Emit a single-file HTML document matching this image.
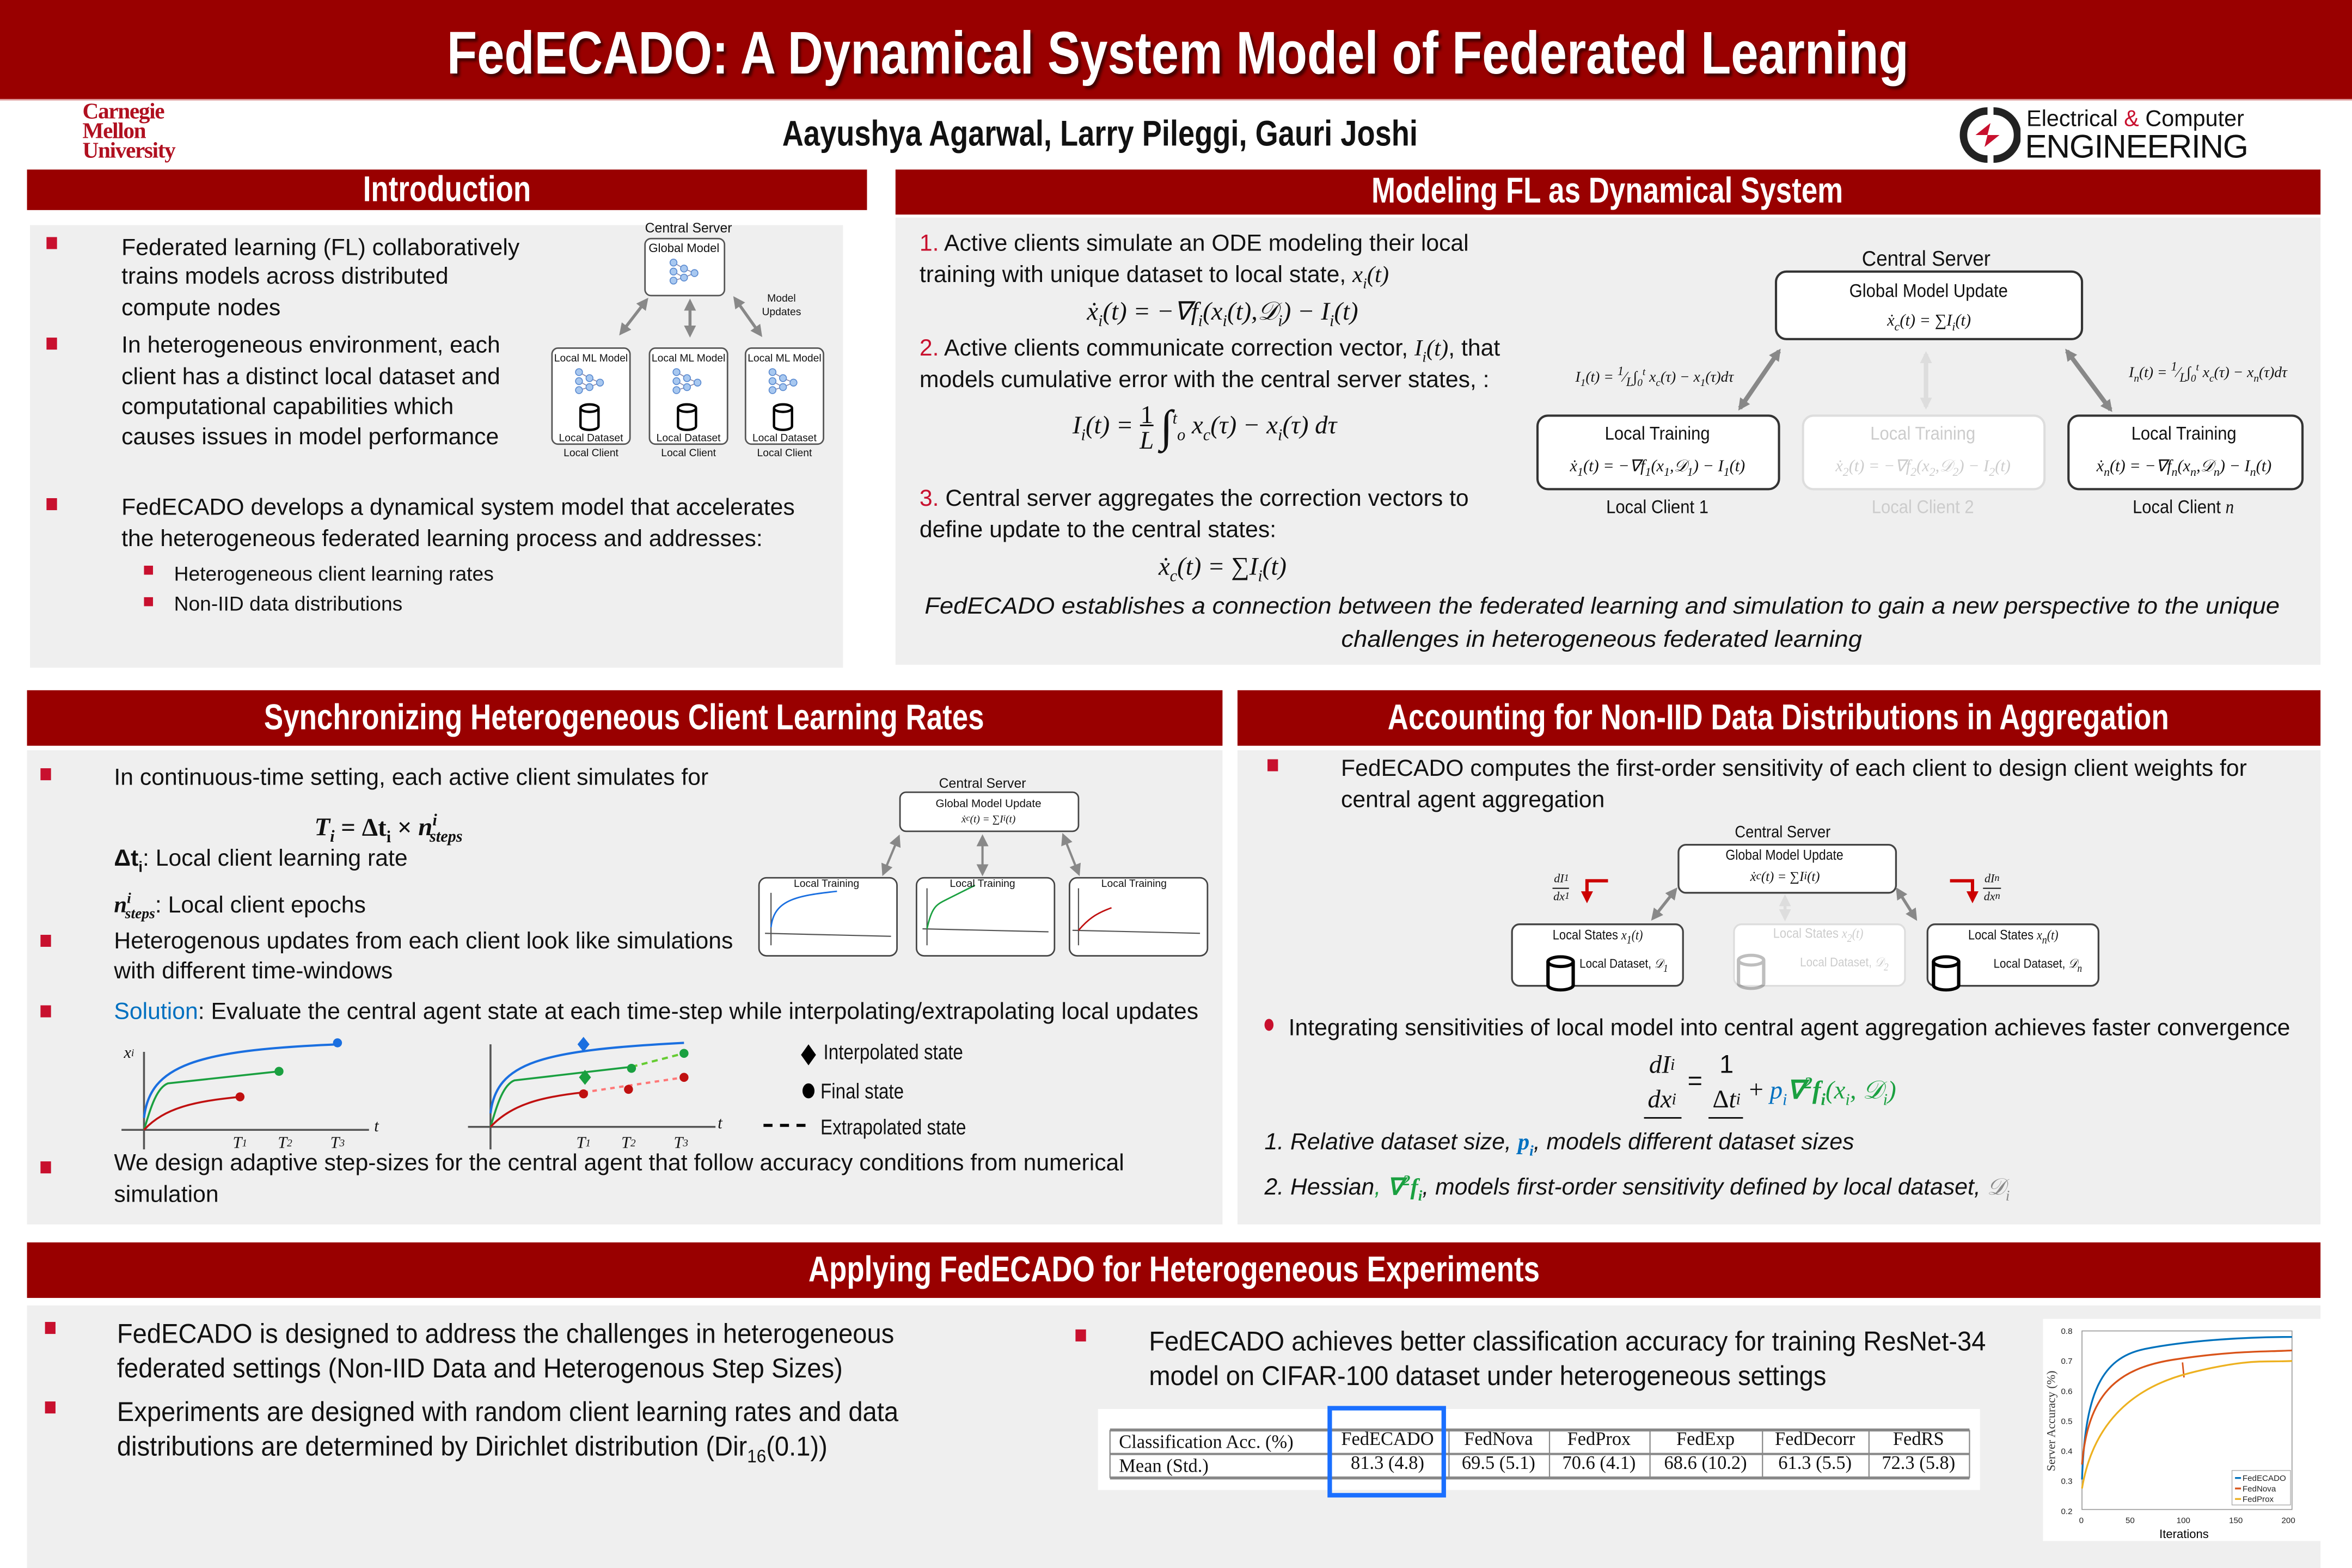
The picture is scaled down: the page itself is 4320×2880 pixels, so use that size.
<!DOCTYPE html>
<html><head><meta charset="utf-8">
<style>
html,body{margin:0;padding:0;width:4320px;height:2880px;overflow:hidden;background:#fff}
#p{position:absolute;left:0;top:0;width:1568px;height:1045px;transform:scale(2.7551,2.7560);transform-origin:0 0;font-family:"Liberation Sans",sans-serif;color:#111}
.t{position:absolute;white-space:nowrap;font-size:15.5px;line-height:20px;transform:scaleX(1);transform-origin:0 50%}
.t.big{font-size:18px;transform:scaleX(.95)}
.t.lg{transform:scaleX(.86)}
.c{position:absolute;white-space:nowrap;line-height:20px;text-align:center;width:0;display:flex;justify-content:center}
.hd{position:absolute;background:#990000;color:#fff;display:flex;align-items:center;justify-content:center;font-weight:bold;font-size:24px}
.hd span{display:inline-block;transform:scaleX(.8)}
.bx{position:absolute;background:#efefef}
.b{position:absolute;width:7px;height:8px;background:#c8102e}
.m{font-family:"Liberation Serif",serif;font-style:italic}
.r{color:#c8102e}
svg{position:absolute;left:0;top:0}
</style></head><body><div id="p">

<div style="position:absolute;left:0;top:0;width:1568px;height:66px;background:#990000"></div>
<div style="position:absolute;left:0;top:66px;width:1568px;height:1px;background:#e0a0a0"></div>
<div class="c" style="left:785px;top:14px;line-height:44px;font-size:40px;font-weight:bold;color:#fff;text-shadow:2px 2px 2px #400"><span style="display:inline-block;transform:scaleX(.82)">FedECADO: A Dynamical System Model of Federated Learning</span></div>

<div style="position:absolute;left:55px;top:69px;font-family:'Liberation Serif',serif;font-weight:bold;color:#b01020;font-size:15px;line-height:13px;letter-spacing:-.5px">Carnegie<br>Mellon<br>University</div>
<div class="c" style="left:733px;top:76px;line-height:28px;font-size:24px;font-weight:bold"><span style="display:inline-block;transform:scaleX(.82)">Aayushya Agarwal, Larry Pileggi, Gauri Joshi</span></div>
<div style="position:absolute;left:1303px;top:70px;width:44px;height:40px">
<svg width="44" height="40" viewBox="0 0 44 40"><path d="M22 4 A16 16 0 1 0 22 36" fill="none" stroke="#222" stroke-width="5"/><path d="M26 4 A16 16 0 0 1 26 36" fill="none" stroke="#222" stroke-width="5"/><path d="M14 20 L24 12 L22 20 L30 20 L20 28 L22 20Z" fill="#c8102e"/></svg></div>
<div style="position:absolute;left:1351px;top:71px;font-size:15px;line-height:17px;white-space:nowrap">Electrical <span style="color:#c8102e">&amp;</span> Computer</div>
<div style="position:absolute;left:1350px;top:86px;font-size:22px;line-height:24px;white-space:nowrap;letter-spacing:-.5px">ENGINEERING</div>

<div class="hd" style="left:18px;top:113px;width:560px;height:27px"><span>Introduction</span></div>
<div class="bx" style="left:20px;top:150px;width:542px;height:295px"></div>
<div class="hd" style="left:597px;top:113px;width:950px;height:30px"><span>Modeling FL as Dynamical System</span></div>
<div class="bx" style="left:597px;top:145px;width:950px;height:298px"></div>
<div class="hd" style="left:18px;top:460px;width:797px;height:37px"><span>Synchronizing Heterogeneous Client Learning Rates</span></div>
<div class="bx" style="left:18px;top:500px;width:797px;height:316px"></div>
<div class="hd" style="left:825px;top:460px;width:722px;height:37px"><span>Accounting for Non-IID Data Distributions in Aggregation</span></div>
<div class="bx" style="left:825px;top:500px;width:722px;height:316px"></div>
<div class="hd" style="left:18px;top:828px;width:1529px;height:37px"><span>Applying FedECADO for Heterogeneous Experiments</span></div>
<div class="bx" style="left:18px;top:870px;width:1529px;height:175px"></div>

<svg width="1568" height="1045" viewBox="0 0 1568 1045">
<defs>
<marker id="ag" markerWidth="8" markerHeight="8" refX="6" refY="4" orient="auto-start-reverse" markerUnits="userSpaceOnUse"><path d="M0,0 L8,4 L0,8Z" fill="#888"/></marker>
<marker id="al" markerWidth="8" markerHeight="8" refX="6" refY="4" orient="auto-start-reverse" markerUnits="userSpaceOnUse"><path d="M0,0 L8,4 L0,8Z" fill="#ddd"/></marker>
<marker id="ar" markerWidth="8" markerHeight="8" refX="6" refY="4" orient="auto" markerUnits="userSpaceOnUse"><path d="M0,0 L8,4 L0,8Z" fill="#c00"/></marker>
<g id="nn" fill="#a8c8f0" stroke="#5a8ad0" stroke-width=".6">
<line x1="5" y1="3" x2="12" y2="7" stroke="#88a"/><line x1="5" y1="9" x2="12" y2="13" stroke="#88a"/><line x1="12" y1="7" x2="19" y2="10" stroke="#88a"/><line x1="12" y1="13" x2="19" y2="10" stroke="#88a"/><line x1="5" y1="15" x2="12" y2="13" stroke="#88a"/>
<circle cx="5" cy="3" r="2.3"/><circle cx="5" cy="9" r="2.3"/><circle cx="5" cy="15" r="2.3"/><circle cx="12" cy="7" r="2.3"/><circle cx="12" cy="13" r="2.3"/><circle cx="19" cy="10" r="2.3"/></g>
<g id="cyl" fill="#fff" stroke="#000" stroke-width="1.6"><path d="M0,3 L0,15 A6,2.5 0 0 0 12,15 L12,3"/><ellipse cx="6" cy="3" rx="6" ry="2.5"/></g>
</defs>

<rect x="430" y="159" width="53" height="38" rx="4" fill="#fff" stroke="#555" stroke-width="1"/>
<use href="#nn" x="444" y="172"/>
<g fill="#fff" stroke="#555" stroke-width="1">
<rect x="368" y="232" width="52" height="64" rx="4"/><rect x="433" y="232" width="52" height="64" rx="4"/><rect x="497" y="232" width="52" height="64" rx="4"/></g>
<use href="#nn" x="381" y="245"/><use href="#nn" x="446" y="245"/><use href="#nn" x="510" y="245"/>
<use href="#cyl" x="387" y="269"/><use href="#cyl" x="452" y="269"/><use href="#cyl" x="516" y="269"/>
<g stroke="#888" stroke-width="2" marker-start="url(#ag)" marker-end="url(#ag)">
<line x1="414" y1="222" x2="431" y2="200"/><line x1="460" y1="201" x2="460" y2="223"/><line x1="490" y1="199" x2="507" y2="223"/></g>

<rect x="1184" y="181" width="204" height="45" rx="7" fill="#fff" stroke="#333" stroke-width="1.5"/>
<rect x="1025" y="277" width="161" height="49" rx="7" fill="#fff" stroke="#333" stroke-width="1.5"/>
<rect x="1202" y="277" width="161" height="49" rx="7" fill="#fff" stroke="#ddd" stroke-width="1.5"/>
<rect x="1379" y="277" width="156" height="49" rx="7" fill="#fff" stroke="#333" stroke-width="1.5"/>
<g stroke="#888" stroke-width="3" marker-start="url(#ag)" marker-end="url(#ag)"><line x1="1160" y1="272" x2="1186" y2="234"/><line x1="1378" y1="234" x2="1407" y2="273"/></g>
<line x1="1284" y1="236" x2="1284" y2="271" stroke="#ddd" stroke-width="3" marker-start="url(#al)" marker-end="url(#al)"/>

<rect x="600" y="528" width="119" height="26" rx="4" fill="#fff" stroke="#444"/>
<g fill="#fff" stroke="#444"><rect x="506" y="585" width="92" height="52" rx="5"/><rect x="611" y="585" width="92" height="52" rx="5"/><rect x="713" y="585" width="92" height="52" rx="5"/></g>
<g stroke="#888" stroke-width="1.5" marker-start="url(#ag)" marker-end="url(#ag)"><line x1="589" y1="582" x2="599" y2="558"/><line x1="655" y1="558" x2="655" y2="582"/><line x1="709" y1="557" x2="719" y2="582"/></g>
<g stroke="#555" stroke-width=".8" fill="none"><line x1="514" y1="595" x2="514" y2="630"/><line x1="510" y1="622" x2="594" y2="624"/><line x1="618" y1="592" x2="618" y2="630"/><line x1="615" y1="619" x2="699" y2="621"/><line x1="719" y1="592" x2="719" y2="630"/><line x1="715" y1="620" x2="800" y2="622"/></g>
<path d="M514,618 C516,600 530,597 558,594" stroke="#1a6fe0" fill="none"/>
<path d="M618,619 C621,605 624,603 630,600 L650,590" stroke="#1aa040" fill="none"/>
<path d="M719,620 C725,613 730,609 741,605" stroke="#c01010" fill="none"/>

<g stroke="#555" stroke-width="1.3"><line x1="96" y1="701" x2="96" y2="766"/><line x1="81" y1="753" x2="246" y2="753"/><line x1="327" y1="696" x2="327" y2="766"/><line x1="312" y1="751" x2="477" y2="751"/></g>
<path d="M96,745 C100,710 130,700 225,696" stroke="#1a6fe0" stroke-width="1.5" fill="none"/>
<path d="M96,753 C100,740 104,725 112,722 L186,714" stroke="#1aa040" stroke-width="1.3" fill="none"/>
<path d="M96,753 C110,738 130,734 160,731" stroke="#c01010" stroke-width="1.3" fill="none"/>
<circle cx="225" cy="695" r="3" fill="#1a6fe0"/><circle cx="186" cy="714" r="3" fill="#1aa040"/><circle cx="160" cy="731" r="3" fill="#c01010"/>
<path d="M327,742 C331,708 360,700 456,695" stroke="#1a6fe0" stroke-width="1.5" fill="none"/>
<path d="M327,751 C331,738 335,723 343,720 L421,711" stroke="#1aa040" stroke-width="1.3" fill="none"/>
<path d="M421,711 L456,702" stroke="#6c3" stroke-width="1.5" stroke-dasharray="4,3" fill="none"/>
<path d="M327,751 C341,736 361,731 389,728" stroke="#c01010" stroke-width="1.3" fill="none"/>
<path d="M389,728 L456,718" stroke="#f77" stroke-width="1.5" stroke-dasharray="3,3" fill="none"/>
<path d="M389,691 l4,5 l-4,5 l-4,-5z" fill="#1a6fe0"/><path d="M390,713 l4,5 l-4,5 l-4,-5z" fill="#1aa040"/>
<circle cx="421" cy="712" r="3" fill="#1aa040"/><circle cx="456" cy="702" r="3" fill="#1aa040"/>
<circle cx="389" cy="729" r="3" fill="#c01010"/><circle cx="419" cy="726" r="3" fill="#c01010"/><circle cx="456" cy="718" r="3" fill="#c01010"/>
<path d="M539,696 l5,7 l-5,7 l-5,-7z" fill="#000"/><ellipse cx="539" cy="727" rx="4" ry="5" fill="#000"/>
<line x1="509" y1="750" x2="540" y2="750" stroke="#000" stroke-width="2" stroke-dasharray="6,5"/>

<rect x="1119" y="563" width="145" height="32" rx="5" fill="#fff" stroke="#444" stroke-width="1.2"/>
<rect x="1008" y="616" width="114" height="41" rx="5" fill="#fff" stroke="#444" stroke-width="1.2"/>
<rect x="1156" y="616" width="114" height="41" rx="5" fill="#fff" stroke="#ddd" stroke-width="1.2"/>
<rect x="1285" y="616" width="114" height="41" rx="5" fill="#fff" stroke="#444" stroke-width="1.2"/>
<g transform="translate(1032,637) scale(1.4,1.3)"><use href="#cyl"/></g>
<g transform="translate(1159,636) scale(1.4,1.3)" opacity=".25"><use href="#cyl"/></g>
<g transform="translate(1289,637) scale(1.4,1.3)"><use href="#cyl"/></g>
<g stroke="#888" stroke-width="2" marker-start="url(#ag)" marker-end="url(#ag)"><line x1="1102" y1="612" x2="1117" y2="593"/><line x1="1265" y1="593" x2="1277" y2="612"/></g>
<line x1="1190" y1="598" x2="1190" y2="612" stroke="#ddd" stroke-width="2" marker-start="url(#al)" marker-end="url(#al)"/>
<path d="M1072,587 L1058,587 L1058,600" stroke="#c00" stroke-width="2.2" fill="none" marker-end="url(#ar)"/>
<path d="M1300,587 L1315,587 L1315,600" stroke="#c00" stroke-width="2.2" fill="none" marker-end="url(#ar)"/>
<line x1="1035" y1="592" x2="1046" y2="592" stroke="#000" stroke-width=".7"/>
<line x1="1322" y1="592" x2="1334" y2="592" stroke="#000" stroke-width=".7"/>
<line x1="1096" y1="745" x2="1121" y2="745" stroke="#000" stroke-width="1"/>
<line x1="1139" y1="745" x2="1162" y2="745" stroke="#000" stroke-width="1"/>

<rect x="732" y="939" width="588" height="54" fill="#fff"/>
<g stroke="#888"><line x1="740" y1="953" x2="1313" y2="953" stroke-width="2"/><line x1="740" y1="969" x2="1313" y2="969" stroke-width="1.5"/><line x1="740" y1="985" x2="1313" y2="985" stroke-width="2"/>
<g stroke-width=".8"><line x1="740" y1="953" x2="740" y2="985"/><line x1="966" y1="953" x2="966" y2="985"/><line x1="1033" y1="953" x2="1033" y2="985"/><line x1="1100" y1="953" x2="1100" y2="985"/><line x1="1175" y1="953" x2="1175" y2="985"/><line x1="1246" y1="953" x2="1246" y2="985"/><line x1="1313" y1="953" x2="1313" y2="985"/></g></g>
<rect x="886.5" y="938.5" width="76" height="58" fill="none" stroke="#1a6fff" stroke-width="3"/>

<rect x="1362" y="879" width="185" height="148" fill="#fff"/>
<rect x="1388" y="887" width="140" height="119" fill="none" stroke="#999" stroke-width=".6"/>
<path d="M1388,986 C1390,930 1400,905 1430,899 S1500,891 1528,891" stroke="#0072bd" stroke-width="1.2" fill="none"/>
<path d="M1388,976 C1392,930 1410,912 1450,906 S1510,901 1528,900" stroke="#d95319" stroke-width="1.2" fill="none"/>
<path d="M1455,908 L1456,918" stroke="#d95319" stroke-width="1"/>
<path d="M1388,992 C1395,950 1420,925 1460,915 S1510,908 1528,907" stroke="#edb120" stroke-width="1.2" fill="none"/>
<rect x="1488" y="980" width="39" height="23" fill="#fff" stroke="#aaa" stroke-width=".5"/>
<g stroke-width="1.2"><line x1="1490" y1="985" x2="1494" y2="985" stroke="#0072bd"/><line x1="1490" y1="992" x2="1494" y2="992" stroke="#d95319"/><line x1="1490" y1="999" x2="1494" y2="999" stroke="#edb120"/></g>
<g font-family="Liberation Sans" font-size="5.5" fill="#222"><text x="1495" y="987">FedECADO</text><text x="1495" y="994">FedNova</text><text x="1495" y="1001">FedProx</text>
<text x="1374" y="889">0.8</text><text x="1374" y="909">0.7</text><text x="1374" y="929">0.6</text><text x="1374" y="949">0.5</text><text x="1374" y="969">0.4</text><text x="1374" y="989">0.3</text><text x="1374" y="1009">0.2</text>
<text x="1386" y="1015">0</text><text x="1417" y="1015">50</text><text x="1451" y="1015">100</text><text x="1486" y="1015">150</text><text x="1521" y="1015">200</text></g>
<text x="1456" y="1025" font-family="Liberation Sans" font-size="8" text-anchor="middle">Iterations</text>
<text transform="translate(1370,947) rotate(-90)" font-family="Liberation Serif" font-size="8" text-anchor="middle" fill="#333">Server Accuracy (%)</text>
</svg>

<div class="b" style="left:31px;top:158px"></div><div class="b" style="left:31px;top:225px"></div><div class="b" style="left:31px;top:332px"></div>
<div class="t" style="left:81px;top:156px">Federated learning (FL) collaboratively</div>
<div class="t" style="left:81px;top:175px">trains models across distributed</div>
<div class="t" style="left:81px;top:196px">compute nodes</div>
<div class="t" style="left:81px;top:221px">In heterogeneous environment, each</div>
<div class="t" style="left:81px;top:242px">client has a distinct local dataset and</div>
<div class="t" style="left:81px;top:262px">computational capabilities which</div>
<div class="t" style="left:81px;top:282px">causes issues in model performance</div>
<div class="t" style="left:81px;top:329px">FedECADO develops a dynamical system model that accelerates</div>
<div class="t" style="left:81px;top:350px">the heterogeneous federated learning process and addresses:</div>
<div class="b" style="left:96px;top:377px;width:6px;height:6px"></div><div class="b" style="left:96px;top:398px;width:6px;height:6px"></div>
<div class="t" style="left:116px;top:373px;font-size:13.5px">Heterogeneous client learning rates</div>
<div class="t" style="left:116px;top:393px;font-size:13.5px">Non-IID data distributions</div>
<div class="c" style="left:459px;top:142px;font-size:9px">Central Server</div>
<div class="c" style="left:456px;top:156px;font-size:8px">Global Model</div>
<div class="c" style="left:521px;top:195px;font-size:7px;line-height:9px">Model<br>Updates</div>
<div class="c" style="left:394px;top:230px;font-size:7px">Local ML Model</div><div class="c" style="left:459px;top:230px;font-size:7px">Local ML Model</div><div class="c" style="left:523px;top:230px;font-size:7px">Local ML Model</div>
<div class="c" style="left:394px;top:283px;font-size:7px">Local Dataset</div><div class="c" style="left:459px;top:283px;font-size:7px">Local Dataset</div><div class="c" style="left:523px;top:283px;font-size:7px">Local Dataset</div>
<div class="c" style="left:394px;top:293px;font-size:7px">Local Client</div><div class="c" style="left:459px;top:293px;font-size:7px">Local Client</div><div class="c" style="left:523px;top:293px;font-size:7px">Local Client</div>

<div class="t" style="left:613px;top:153px"><span class="r">1.</span> Active clients simulate an ODE modeling their local</div>
<div class="t" style="left:613px;top:174px">training with unique dataset to local state, <span class="m">x<sub style="font-size:10px">i</sub>(t)</span></div>
<div class="c" style="left:815px;top:198px;font-size:17px"><span class="m">ẋ<sub style="font-size:11px">i</sub>(t) = −∇f<sub style="font-size:11px">i</sub>(x<sub style="font-size:11px">i</sub>(t),𝒟<sub style="font-size:11px">i</sub>) − I<sub style="font-size:11px">i</sub>(t)</span></div>
<div class="t" style="left:613px;top:223px"><span class="r">2.</span> Active clients communicate correction vector, <span class="m">I<sub style="font-size:10px">i</sub>(t)</span>, that</div>
<div class="t" style="left:613px;top:244px">models cumulative error with the central server states, :</div>
<div style="position:absolute;left:715px;top:268px;font-size:17px;white-space:nowrap" class="m">I<sub style="font-size:11px">i</sub>(t) = <span style="display:inline-block;vertical-align:middle;text-align:center;line-height:17px;font-style:normal">1<br><span style="border-top:1px solid #000" class="m">L</span></span> <span style="font-size:30px;font-style:normal;vertical-align:middle">∫</span><sup style="font-size:11px">t</sup><sub style="font-size:11px">o</sub> x<sub style="font-size:11px">c</sub>(τ) − x<sub style="font-size:11px">i</sub>(τ) dτ</div>
<div class="t" style="left:613px;top:323px"><span class="r">3.</span> Central server aggregates the correction vectors to</div>
<div class="t" style="left:613px;top:344px">define update to the central states:</div>
<div class="c" style="left:815px;top:368px;font-size:17px"><span class="m">ẋ<sub style="font-size:11px">c</sub>(t) = ∑I<sub style="font-size:11px">i</sub>(t)</span></div>
<div class="c" style="left:1068px;top:395px;font-size:15.5px;font-style:italic"><span style="display:inline-block;transform:scaleX(1.06)">FedECADO establishes a connection between the federated learning and simulation to gain a new perspective to the unique</span></div>
<div class="c" style="left:1068px;top:417px;font-size:15.5px;font-style:italic"><span style="display:inline-block;transform:scaleX(1.06)">challenges in heterogeneous federated learning</span></div>
<div class="c" style="left:1284px;top:162px;font-size:14px"><span style="display:inline-block;transform:scaleX(.95)">Central Server</span></div>
<div class="c" style="left:1286px;top:184px;font-size:12.5px"><span style="display:inline-block;transform:scaleX(.9)">Global Model Update</span></div>
<div class="c" style="left:1286px;top:204px;font-size:11px"><span class="m">ẋ<sub style="font-size:8px">c</sub>(t) = ∑I<sub style="font-size:8px">i</sub>(t)</span></div>
<div class="c" style="left:1105px;top:279px;font-size:12.5px"><span style="display:inline-block;transform:scaleX(.9)">Local Training</span></div>
<div class="c" style="left:1105px;top:301px;font-size:11px"><span class="m">ẋ<sub style="font-size:8px">1</sub>(t) = −∇f<sub style="font-size:8px">1</sub>(x<sub style="font-size:8px">1</sub>,𝒟<sub style="font-size:8px">1</sub>) − I<sub style="font-size:8px">1</sub>(t)</span></div>
<div class="c" style="left:1282px;top:279px;font-size:12.5px;color:#ccc"><span style="display:inline-block;transform:scaleX(.9)">Local Training</span></div>
<div class="c" style="left:1282px;top:301px;font-size:11px;color:#ccc"><span class="m">ẋ<sub style="font-size:8px">2</sub>(t) = −∇f<sub style="font-size:8px">2</sub>(x<sub style="font-size:8px">2</sub>,𝒟<sub style="font-size:8px">2</sub>) − I<sub style="font-size:8px">2</sub>(t)</span></div>
<div class="c" style="left:1456px;top:279px;font-size:12.5px"><span style="display:inline-block;transform:scaleX(.9)">Local Training</span></div>
<div class="c" style="left:1456px;top:301px;font-size:11px"><span class="m">ẋ<sub style="font-size:8px">n</sub>(t) = −∇f<sub style="font-size:8px">n</sub>(x<sub style="font-size:8px">n</sub>,𝒟<sub style="font-size:8px">n</sub>) − I<sub style="font-size:8px">n</sub>(t)</span></div>
<div class="c" style="left:1105px;top:328px;font-size:12.5px"><span style="display:inline-block;transform:scaleX(.9)">Local Client 1</span></div>
<div class="c" style="left:1282px;top:328px;font-size:12.5px;color:#ccc"><span style="display:inline-block;transform:scaleX(.9)">Local Client 2</span></div>
<div class="c" style="left:1456px;top:328px;font-size:12.5px"><span style="display:inline-block;transform:scaleX(.9)">Local Client <i class="m">n</i></span></div>
<div class="c" style="left:1103px;top:238px;font-size:10px"><span class="m">I<sub style="font-size:7px">1</sub>(t) = <sup>1</sup>⁄<sub>L</sub>∫<sub style="font-size:7px">0</sub><sup style="font-size:7px">t</sup> x<sub style="font-size:7px">c</sub>(τ) − x<sub style="font-size:7px">1</sub>(τ)dτ</span></div>
<div class="c" style="left:1472px;top:235px;font-size:10px"><span class="m">I<sub style="font-size:7px">n</sub>(t) = <sup>1</sup>⁄<sub>L</sub>∫<sub style="font-size:7px">0</sub><sup style="font-size:7px">t</sup> x<sub style="font-size:7px">c</sub>(τ) − x<sub style="font-size:7px">n</sub>(τ)dτ</span></div>

<div class="b" style="left:27px;top:512px"></div><div class="b" style="left:27px;top:623px"></div><div class="b" style="left:27px;top:670px"></div><div class="b" style="left:27px;top:774px"></div>
<div class="t" style="left:76px;top:509px">In continuous-time setting, each active client simulates for</div>
<div class="c" style="left:259px;top:535px;font-size:17px;font-weight:bold;line-height:24px"><span class="m">T<sub style="font-size:11px">i</sub> <span style="font-style:normal">= Δt<sub style="font-size:11px">i</sub> ×</span> n<sup style="font-size:11px">i</sup><sub style="font-size:11px;margin-left:-5px">steps</sub></span></div>
<div class="t" style="left:76px;top:563px"><b>Δt<sub style="font-size:10px">i</sub></b>: Local client learning rate</div>
<div class="t" style="left:76px;top:590px"><b class="m">n<sup style="font-size:10px">i</sup><sub style="font-size:10px;margin-left:-4px">steps</sub></b>: Local client epochs</div>
<div class="t" style="left:76px;top:618px">Heterogenous updates from each client look like simulations</div>
<div class="t" style="left:76px;top:638px">with different time-windows</div>
<div class="t" style="left:76px;top:665px"><span style="color:#0070c0">Solution</span>: Evaluate the central agent state at each time-step while interpolating/extrapolating local updates</div>
<div class="t" style="left:76px;top:766px">We design adaptive step-sizes for the central agent that follow accuracy conditions from numerical</div>
<div class="t" style="left:76px;top:787px">simulation</div>
<div class="t lg" style="left:549px;top:691px;font-size:14px">Interpolated state</div>
<div class="t lg" style="left:547px;top:717px;font-size:14px">Final state</div>
<div class="t lg" style="left:547px;top:741px;font-size:14px">Extrapolated state</div>
<div class="c m" style="left:86px;top:692px;font-size:11px">x<sub style="font-size:7px">i</sub></div>
<div class="c m" style="left:160px;top:752px;font-size:11px">T<sub style="font-size:7px">1</sub></div><div class="c m" style="left:190px;top:752px;font-size:11px">T<sub style="font-size:7px">2</sub></div><div class="c m" style="left:225px;top:752px;font-size:11px">T<sub style="font-size:7px">3</sub></div><div class="c m" style="left:251px;top:741px;font-size:11px">t</div>
<div class="c m" style="left:389px;top:752px;font-size:11px">T<sub style="font-size:7px">1</sub></div><div class="c m" style="left:419px;top:752px;font-size:11px">T<sub style="font-size:7px">2</sub></div><div class="c m" style="left:454px;top:752px;font-size:11px">T<sub style="font-size:7px">3</sub></div><div class="c m" style="left:480px;top:739px;font-size:11px">t</div>
<div class="c" style="left:655px;top:512px;font-size:9px">Central Server</div>
<div class="c" style="left:659px;top:526px;font-size:7.5px">Global Model Update</div>
<div class="c m" style="left:659px;top:536px;font-size:7px">ẋ<sub>c</sub>(t) = ∑I<sub>i</sub>(t)</div>
<div class="c" style="left:551px;top:580px;font-size:7px">Local Training</div><div class="c" style="left:655px;top:580px;font-size:7px">Local Training</div><div class="c" style="left:756px;top:580px;font-size:7px">Local Training</div>

<div class="b" style="left:845px;top:506px"></div>
<div class="t" style="left:894px;top:503px">FedECADO computes the first-order sensitivity of each client to design client weights for</div>
<div class="t" style="left:894px;top:524px">central agent aggregation</div>
<div class="c" style="left:1188px;top:545px;font-size:11px"><span style="display:inline-block;transform:scaleX(.9)">Central Server</span></div>
<div class="c" style="left:1190px;top:561px;font-size:9.5px"><span style="display:inline-block;transform:scaleX(.88)">Global Model Update</span></div>
<div class="c m" style="left:1190px;top:574px;font-size:9px">ẋ<sub>c</sub>(t) = ∑I<sub>i</sub>(t)</div>
<div class="c" style="left:1065px;top:613px;font-size:9px"><span style="display:inline-block;transform:scaleX(.88)">Local States <i class="m">x<sub>1</sub>(t)</i></span></div>
<div class="c" style="left:1083px;top:632px;font-size:8.5px"><span style="display:inline-block;transform:scaleX(.88)">Local Dataset, <i class="m">𝒟<sub>1</sub></i></span></div>
<div class="c" style="left:1212px;top:612px;font-size:9px;color:#ccc"><span style="display:inline-block;transform:scaleX(.88)">Local States <i class="m">x<sub>2</sub>(t)</i></span></div>
<div class="c" style="left:1230px;top:631px;font-size:8.5px;color:#ccc"><span style="display:inline-block;transform:scaleX(.88)">Local Dataset, <i class="m">𝒟<sub>2</sub></i></span></div>
<div class="c" style="left:1342px;top:613px;font-size:9px"><span style="display:inline-block;transform:scaleX(.88)">Local States <i class="m">x<sub>n</sub>(t)</i></span></div>
<div class="c" style="left:1359px;top:632px;font-size:8.5px"><span style="display:inline-block;transform:scaleX(.88)">Local Dataset, <i class="m">𝒟<sub>n</sub></i></span></div>
<div class="c m" style="left:1041px;top:576px;font-size:8px">dI<sub>1</sub></div><div class="c m" style="left:1041px;top:588px;font-size:8px">dx<sub>1</sub></div>
<div class="c m" style="left:1328px;top:576px;font-size:8px">dI<sub>n</sub></div><div class="c m" style="left:1328px;top:588px;font-size:8px">dx<sub>n</sub></div>
<div style="position:absolute;left:843px;top:679px;width:6px;height:8px;border-radius:50%;background:#c8102e"></div>
<div class="t" style="left:859px;top:676px">Integrating sensitivities of local model into central agent aggregation achieves faster convergence</div>
<div class="c m" style="left:1108px;top:700px;font-size:17px">dI<sub style="font-size:11px">i</sub></div>
<div class="c m" style="left:1108px;top:723px;font-size:17px">dx<sub style="font-size:11px">i</sub></div>
<div class="c" style="left:1130px;top:711px;font-size:17px">=</div>
<div class="c" style="left:1151px;top:700px;font-size:17px">1</div>
<div class="c m" style="left:1151px;top:723px;font-size:17px"><span style="font-style:normal">Δ</span>t<sub style="font-size:11px">i</sub></div>
<div style="position:absolute;left:1166px;top:711px;font-size:17px;line-height:22px;white-space:nowrap" class="m"><span style="font-style:normal">+</span> <span style="color:#0070c0">p<sub style="font-size:11px">i</sub></span><span style="color:#1aa040"><b>∇<sup style="font-size:11px">2</sup>f<sub style="font-size:11px">i</sub></b>(x<sub style="font-size:11px">i</sub>, 𝒟<sub style="font-size:11px">i</sub>)</span></div>
<div class="t" style="left:843px;top:752px;font-style:italic">1. Relative dataset size, <b style="color:#0070c0" class="m">p<sub style="font-size:10px">i</sub></b>, models different dataset sizes</div>
<div class="t" style="left:843px;top:778px;font-style:italic">2. Hessian<span style="color:#1aa040">, <b class="m">∇<sup style="font-size:10px">2</sup>f<sub style="font-size:10px">i</sub></b></span>, models first-order sensitivity defined by local dataset, <span class="m" style="color:#888">𝒟<sub style="font-size:10px">i</sub></span></div>

<div class="b" style="left:30px;top:881px"></div><div class="b" style="left:30px;top:934px"></div><div class="b" style="left:717px;top:886px"></div>
<div class="t big" style="left:78px;top:879px">FedECADO is designed to address the challenges in heterogeneous</div>
<div class="t big" style="left:78px;top:902px">federated settings (Non-IID Data and Heterogenous Step Sizes)</div>
<div class="t big" style="left:78px;top:931px">Experiments are designed with random client learning rates and data</div>
<div class="t big" style="left:78px;top:954px">distributions are determined by Dirichlet distribution (Dir<sub style="font-size:12px">16</sub>(0.1))</div>
<div class="t big" style="left:766px;top:884px">FedECADO achieves better classification accuracy for training ResNet-34</div>
<div class="t big" style="left:766px;top:907px">model on CIFAR-100 dataset under heterogeneous settings</div>
<div style="position:absolute;left:746px;top:953px;font-family:'Liberation Serif',serif;font-size:12.5px;line-height:16px;white-space:nowrap">Classification Acc. (%)<br>Mean (Std.)</div>
<div class="c" style="left:925px;top:951px;font-family:'Liberation Serif',serif;font-size:12.5px;line-height:16px">FedECADO</div><div class="c" style="left:925px;top:967px;font-family:'Liberation Serif',serif;font-size:12.5px;line-height:16px">81.3 (4.8)</div>
<div class="c" style="left:999px;top:951px;font-family:'Liberation Serif',serif;font-size:12.5px;line-height:16px">FedNova</div><div class="c" style="left:999px;top:967px;font-family:'Liberation Serif',serif;font-size:12.5px;line-height:16px">69.5 (5.1)</div>
<div class="c" style="left:1066px;top:951px;font-family:'Liberation Serif',serif;font-size:12.5px;line-height:16px">FedProx</div><div class="c" style="left:1066px;top:967px;font-family:'Liberation Serif',serif;font-size:12.5px;line-height:16px">70.6 (4.1)</div>
<div class="c" style="left:1137px;top:951px;font-family:'Liberation Serif',serif;font-size:12.5px;line-height:16px">FedExp</div><div class="c" style="left:1137px;top:967px;font-family:'Liberation Serif',serif;font-size:12.5px;line-height:16px">68.6 (10.2)</div>
<div class="c" style="left:1210px;top:951px;font-family:'Liberation Serif',serif;font-size:12.5px;line-height:16px">FedDecorr</div><div class="c" style="left:1210px;top:967px;font-family:'Liberation Serif',serif;font-size:12.5px;line-height:16px">61.3 (5.5)</div>
<div class="c" style="left:1279px;top:951px;font-family:'Liberation Serif',serif;font-size:12.5px;line-height:16px">FedRS</div><div class="c" style="left:1279px;top:967px;font-family:'Liberation Serif',serif;font-size:12.5px;line-height:16px">72.3 (5.8)</div>

</div></body></html>
